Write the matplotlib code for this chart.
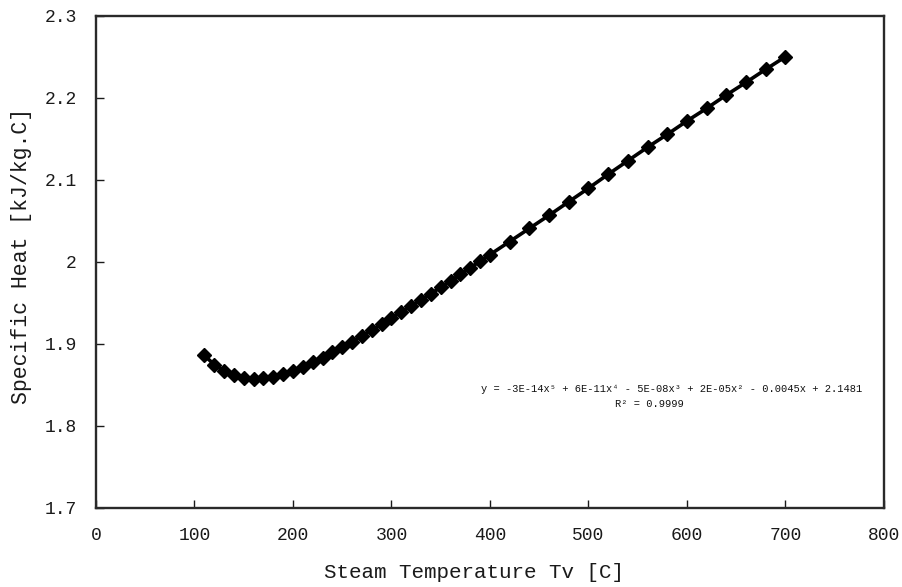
import matplotlib
matplotlib.use("Agg")
import matplotlib.pyplot as plt

# steam temperature [C] and specific heat [kJ/kg.C]
temps = [110, 120, 130, 140, 150, 160, 170, 180, 190, 200,
         210, 220, 230, 240, 250, 260, 270, 280, 290, 300,
         310, 320, 330, 340, 350, 360, 370, 380, 390, 400,
         420, 440, 460, 480, 500, 520, 540, 560, 580, 600,
         620, 640, 660, 680, 700]
cp = [1.886, 1.875, 1.867, 1.862, 1.858, 1.857, 1.858, 1.860, 1.863, 1.867,
      1.872, 1.8775, 1.8835, 1.890, 1.896, 1.903, 1.910, 1.917, 1.924, 1.932,
      1.939, 1.9465, 1.954, 1.9615, 1.969, 1.977, 1.985, 1.993, 2.001, 2.009,
      2.025, 2.041, 2.057, 2.0735, 2.090, 2.107, 2.1235, 2.140, 2.1557, 2.172,
      2.1874, 2.2037, 2.2191, 2.235, 2.2504]

x_ticks = [0, 100, 200, 300, 400, 500, 600, 700, 800]
y_ticks = [1.7, 1.8, 1.9, 2.0, 2.1, 2.2, 2.3]
y_tick_labels = ["1.7", "1.8", "1.9", "2", "2.1", "2.2", "2.3"]

fit_text = "y = -3E-14x⁵ + 6E-11x⁴ - 5E-08x³ + 2E-05x² - 0.0045x + 2.1481"
r2_text = "R² = 0.9999"

fonts = ["Liberation Mono", "DejaVu Sans Mono"]
plt.rcParams["font.family"] = fonts

fig = plt.figure(figsize=(9.03, 5.87), dpi=100)
ax = fig.add_axes([96 / 903, 1 - 508 / 587, 788 / 903, 492 / 587])

ax.plot(temps, cp, color="black", linewidth=2.6, marker="D",
        markersize=7.2, markerfacecolor="black", markeredgecolor="black")

ax.set_xlim(0, 800)
ax.set_ylim(1.7, 2.3)
ax.set_xticks(x_ticks)
ax.set_yticks(y_ticks)
ax.set_yticklabels(y_tick_labels)

ax.tick_params(axis="both", direction="in", length=6, width=1, labelsize=13,
               colors="#1a1a1a", top=False, right=False)
ax.tick_params(axis="y", pad=14)
ax.tick_params(axis="x", pad=14)

for s in ax.spines.values():
    s.set_linewidth(1.7)
    s.set_color("#2a2a2a")

fig.text(474 / 903, 1 - 573 / 587, "Steam Temperature Tv [C]", fontsize=15,
         ha="center", va="center", color="#1a1a1a")
fig.text(22 / 903, 1 - 256 / 587, "Specific Heat [kJ/kg.C]", fontsize=15.5,
         ha="center", va="center", rotation=90, color="#1a1a1a")

fig.text(672 / 903, 1 - 389 / 587, fit_text, fontsize=7.5,
         ha="center", va="center", color="#111111")
fig.text(649 / 903, 1 - 404 / 587, r2_text, fontsize=7.5,
         ha="center", va="center", color="#111111")

fig.savefig("out.png", dpi=100)
